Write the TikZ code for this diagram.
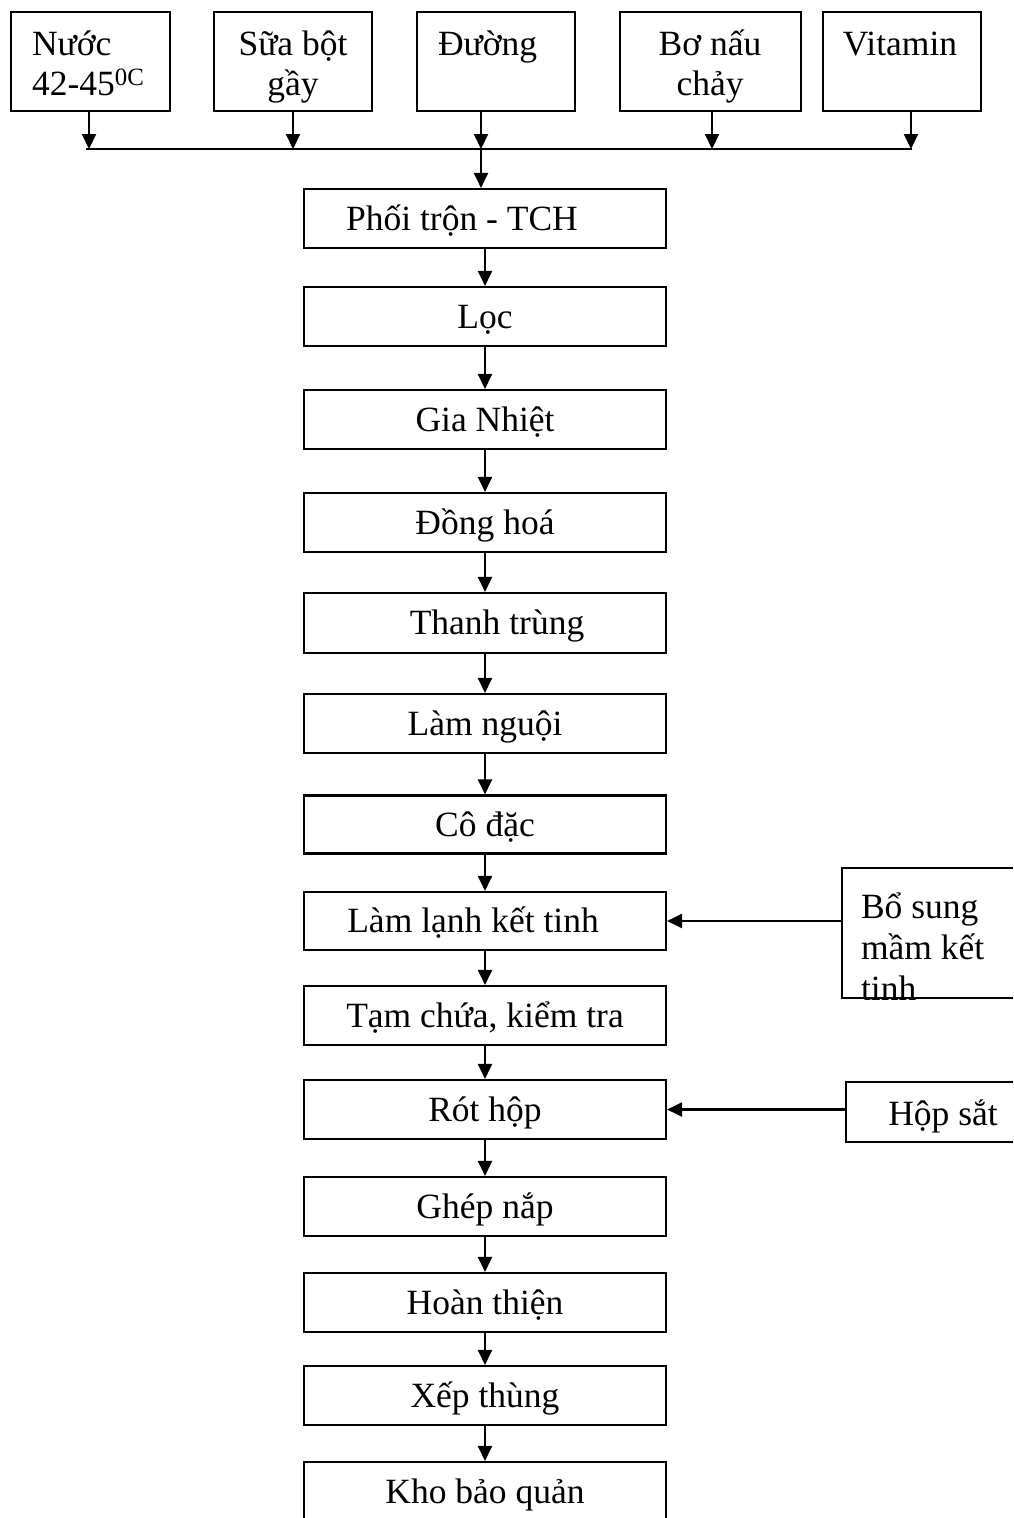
\documentclass[tikz,border=0pt]{standalone}
\usepackage{fontspec}
\setmainfont{Liberation Serif}
\usetikzlibrary{arrows.meta}
\begin{document}
\begin{tikzpicture}[x=1pt,y=-1pt,
  line width=2.1pt,
  txt/.style={font=\fontsize{35.5}{40}\selectfont, inner sep=0pt},
  mainbox/.style={draw, txt, minimum width=362pt, minimum height=59pt,
     text height=31pt, text depth=8pt},
  plainbox/.style={draw, inner sep=0pt},
  arr/.style={-{Triangle[width=14pt,length=15pt]}, line width=2.1pt}]
\useasboundingbox (0,0) rectangle (1013,1518);
\fill[white] (0,0) rectangle (1013,1518);
\clip (0,0) rectangle (1013,1518);

% top inputs
\node[plainbox, minimum width=159pt, minimum height=99pt] (t1) at (90.5,61.5) {};
\node[plainbox, minimum width=158pt, minimum height=99pt] (t2) at (293,61.5) {};
\node[plainbox, minimum width=158pt, minimum height=99pt] (t3) at (496,61.5) {};
\node[plainbox, minimum width=181pt, minimum height=99pt] (t4) at (710.5,61.5) {};
\node[plainbox, minimum width=158pt, minimum height=99pt] (t5) at (902,61.5) {};

\node[txt, anchor=base west] (t1a) at (31,55) {Nước};
\node[txt, anchor=base west] (t1b) at (31,95) {42-45\textsuperscript{0C}};
\node[txt, anchor=base] (t2a) at (293,55) {Sữa bột};
\node[txt, anchor=base] (t2b) at (293,95) {gầy};
\node[txt, anchor=base west] (t3a) at (437,55) {Đường};
\node[txt, anchor=base] (t4a) at (710,55) {Bơ nấu};
\node[txt, anchor=base] (t4b) at (710,95) {chảy};
\node[txt, anchor=base] (t5a) at (900,55) {Vitamin};

% bus
\coordinate (b1) at (89,149);
\coordinate (b2) at (293,149);
\coordinate (b3) at (481,149);
\coordinate (b4) at (712,149);
\coordinate (b5) at (911,149);
\coordinate (busL) at (86,149);
\coordinate (busR) at (912,149);
\draw (busL) -- (busR);
\draw[arr] (b1 |- t1.south) -- (b1);
\draw[arr] (b2 |- t2.south) -- (b2);
\draw[arr] (b3 |- t3.south) -- (b3);
\draw[arr] (b4 |- t4.south) -- (b4);
\draw[arr] (b5 |- t5.south) -- (b5);

% main chain
\node[mainbox] (phoi) at (485,218.5) {Phối trộn - TCH\kern46pt};
\node[mainbox] (loc) at (485,316.5) {Lọc};
\node[mainbox] (gia) at (485,419.5) {Gia Nhiệt};
\node[mainbox] (dong) at (485,522.5) {Đồng hoá};
\node[mainbox, minimum height=60pt] (thanh) at (485,623) {\kern24pt Thanh trùng};
\node[mainbox] (nguoi) at (485,723.5) {Làm nguội};
\node[mainbox, minimum height=58pt] (codac) at (485,824.5) {Cô đặc};
\node[mainbox, minimum height=58pt] (lanh) at (485,921) {Làm lạnh kết tinh\kern24pt};
\node[mainbox] (tam) at (485,1015.5) {Tạm chứa, kiểm tra};
\node[mainbox] (rot) at (485,1109.5) {Rót hộp};
\node[mainbox] (ghep) at (485,1206.5) {Ghép nắp};
\node[mainbox] (hoan) at (485,1302.5) {Hoàn thiện};
\node[mainbox] (xep) at (485,1395.5) {Xếp thùng};
\node[mainbox] (kho) at (485,1491.5) {Kho bảo quản};

\draw[arr] (b3) -- (b3 |- phoi.north);
\draw[arr] (phoi) -- (loc);
\draw[arr] (loc) -- (gia);
\draw[arr] (gia) -- (dong);
\draw[arr] (dong) -- (thanh);
\draw[arr] (thanh) -- (nguoi);
\draw[arr] (nguoi) -- (codac);
\draw[arr] (codac) -- (lanh);
\draw[arr] (lanh) -- (tam);
\draw[arr] (tam) -- (rot);
\draw[arr] (rot) -- (ghep);
\draw[arr] (ghep) -- (hoan);
\draw[arr] (hoan) -- (xep);
\draw[arr] (xep) -- (kho);

% side inputs
\node[plainbox, minimum width=176pt, minimum height=130pt] (bo) at (930,933) {};
\begin{scope}
\clip (bo.south west) rectangle (bo.north east);
\node[txt, anchor=base west] (bo1) at (860,918) {Bổ sung};
\node[txt, anchor=base west] (bo2) at (860,959) {mầm kết};
\node[txt, anchor=base west] (bo3) at (860,1000) {tinh};
\end{scope}
\node[plainbox, minimum width=172pt, minimum height=60pt] (hop) at (932,1112) {};
\node[txt, anchor=base] (hopt) at (943,1125) {Hộp sắt};

\draw[arr] (bo.west |- lanh.east) -- (lanh.east);
\draw[arr] (hop.west |- rot.east) -- (rot.east);
\end{tikzpicture}
\end{document}
